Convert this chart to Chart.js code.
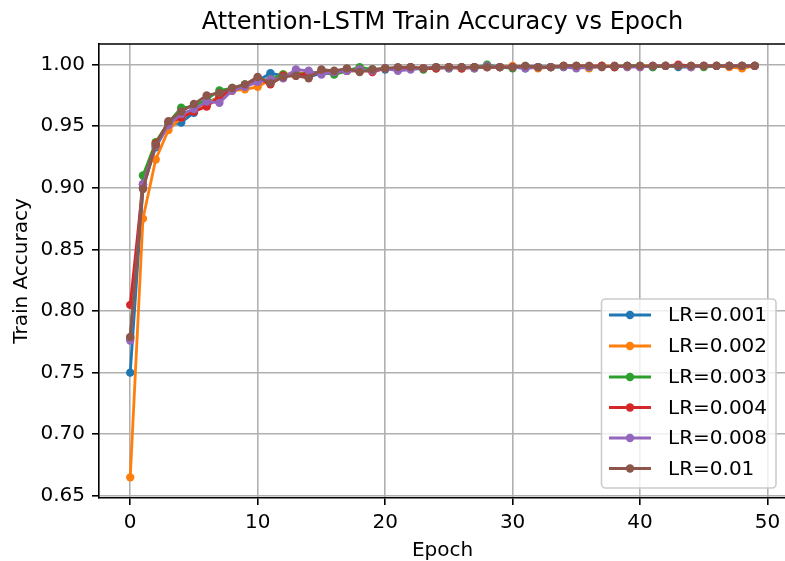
<!DOCTYPE html>
<html>
<head>
<meta charset="utf-8">
<script src="https://cdn.jsdelivr.net/npm/chart.js@4.4.1/dist/chart.umd.min.js"></script>
<style>
html,body{margin:0;padding:0;background:#fff;}
#wrap{width:785px;height:561px;overflow:hidden;position:relative;}
canvas{display:block;}
</style>
</head>
<body>
<div id="wrap"><canvas id="c" width="792" height="561"></canvas></div>
<script>
const chartTitle = "Attention-LSTM Train Accuracy vs Epoch";
const xTitle = "Epoch";
const yTitle = "Train Accuracy";
const epochs = Array.from({length: 50}, (_, i) => i);
const xTicks = [0, 10, 20, 30, 40, 50];
const yTicks = [0.65, 0.70, 0.75, 0.80, 0.85, 0.90, 0.95, 1.00];
const seriesLabels = ["LR=0.001", "LR=0.002", "LR=0.003", "LR=0.004", "LR=0.008", "LR=0.01"];
const seriesColors = ["#1f77b4", "#ff7f0e", "#2ca02c", "#d62728", "#9467bd", "#8c564b"];

const lr0001 = [0.750,0.900,0.933,0.951,0.953,0.961,0.969,0.974,0.980,0.983,0.987,0.993,0.991,0.993,0.990,0.993,0.993,0.995,0.995,0.996,0.996,0.997,0.997,0.997,0.997,0.998,0.997,0.998,0.998,0.998,0.998,0.997,0.998,0.998,0.999,0.999,0.998,0.999,0.998,0.999,0.999,0.998,0.999,0.998,0.998,0.999,0.999,0.999,0.999,0.999];
const lr0002 = [0.665,0.875,0.923,0.947,0.957,0.963,0.968,0.974,0.979,0.980,0.982,0.988,0.992,0.993,0.993,0.994,0.994,0.995,0.995,0.996,0.997,0.997,0.997,0.997,0.997,0.998,0.997,0.998,0.998,0.998,0.999,0.998,0.997,0.998,0.999,0.998,0.997,0.999,0.999,0.998,0.999,0.999,0.999,0.999,0.998,0.999,0.999,0.998,0.997,0.999];
const lr0003 = [0.778,0.910,0.937,0.953,0.965,0.966,0.972,0.979,0.981,0.984,0.987,0.988,0.992,0.992,0.993,0.994,0.992,0.995,0.998,0.996,0.997,0.997,0.998,0.996,0.998,0.997,0.998,0.997,1.000,0.998,0.997,0.999,0.998,0.998,0.998,0.999,0.998,0.999,0.998,0.999,0.999,0.998,0.999,0.999,0.999,0.998,0.999,0.999,0.999,0.999];
const lr0004 = [0.805,0.903,0.936,0.953,0.957,0.962,0.966,0.974,0.979,0.983,0.989,0.984,0.991,0.991,0.993,0.993,0.994,0.995,0.996,0.994,0.997,0.997,0.998,0.997,0.997,0.998,0.997,0.998,0.998,0.998,0.998,0.998,0.998,0.998,0.999,0.999,0.999,0.999,0.998,0.999,0.998,0.999,0.999,1.000,0.999,0.999,0.999,0.999,0.999,0.999];
const lr0008 = [0.776,0.903,0.934,0.951,0.960,0.964,0.970,0.969,0.979,0.982,0.986,0.988,0.989,0.996,0.995,0.992,0.994,0.995,0.996,0.995,0.997,0.995,0.996,0.997,0.998,0.997,0.998,0.997,0.999,0.998,0.998,0.997,0.998,0.998,0.998,0.997,0.998,0.998,0.999,0.998,0.998,0.999,0.999,0.999,0.998,0.999,0.999,0.999,0.999,0.999];
const lr001 = [0.779,0.899,0.935,0.954,0.962,0.968,0.975,0.977,0.981,0.984,0.990,0.985,0.990,0.991,0.989,0.996,0.995,0.997,0.994,0.996,0.997,0.998,0.998,0.997,0.998,0.998,0.998,0.998,0.998,0.998,0.998,0.999,0.998,0.998,0.999,0.999,0.999,0.998,0.999,0.999,0.999,0.999,0.999,0.999,0.999,0.999,0.999,0.999,0.999,0.999];

const seriesValues = [lr0001, lr0002, lr0003, lr0004, lr0008, lr001];
const FONT = "'DejaVu Sans', 'Liberation Sans', sans-serif";

const datasets = seriesValues.map((vals, i) => ({
  label: seriesLabels[i],
  data: epochs.map((e, k) => ({x: e, y: vals[k]})),
  borderColor: seriesColors[i],
  backgroundColor: seriesColors[i],
  pointBackgroundColor: seriesColors[i],
  pointBorderColor: seriesColors[i],
  borderWidth: 2.8,
  pointRadius: 4.2,
  pointBorderWidth: 0,
  pointHoverRadius: 4.2,
  tension: 0,
  order: -i
}));

const framePlugin = {
  id: 'frame',
  afterDraw(chart) {
    const {ctx, chartArea: a} = chart;
    ctx.save();
    ctx.strokeStyle = '#000';
    ctx.lineWidth = 1.6;
    ctx.beginPath();
    ctx.moveTo(a.left, a.top);
    ctx.lineTo(a.right, a.top);
    ctx.lineTo(a.right, a.bottom);
    ctx.stroke();
    ctx.fillStyle = '#000';
    ctx.font = "24px " + FONT;
    ctx.textAlign = 'center';
    ctx.textBaseline = 'middle';
    ctx.fillText(chartTitle, (a.left + a.right) / 2, 23);
    const bx = 601.5, by = 299, bw = 174.5, bh = 189, r = 4;
    ctx.beginPath();
    ctx.moveTo(bx + r, by);
    ctx.lineTo(bx + bw - r, by);
    ctx.arcTo(bx + bw, by, bx + bw, by + r, r);
    ctx.lineTo(bx + bw, by + bh - r);
    ctx.arcTo(bx + bw, by + bh, bx + bw - r, by + bh, r);
    ctx.lineTo(bx + r, by + bh);
    ctx.arcTo(bx, by + bh, bx, by + bh - r, r);
    ctx.lineTo(bx, by + r);
    ctx.arcTo(bx, by, bx + r, by, r);
    ctx.closePath();
    ctx.fillStyle = 'rgba(255,255,255,0.8)';
    ctx.fill();
    ctx.strokeStyle = '#cccccc';
    ctx.lineWidth = 1.6;
    ctx.stroke();
    const rowY = [315, 346, 377, 407.5, 438, 468.5];
    ctx.font = "20px " + FONT;
    ctx.textAlign = 'left';
    ctx.textBaseline = 'middle';
    chart.data.datasets.forEach((ds, i) => {
      const y = rowY[i];
      ctx.strokeStyle = ds.borderColor;
      ctx.lineWidth = 2.8;
      ctx.beginPath();
      ctx.moveTo(609, y);
      ctx.lineTo(651, y);
      ctx.stroke();
      ctx.fillStyle = ds.borderColor;
      ctx.beginPath();
      ctx.arc(630, y, 4.2, 0, Math.PI * 2);
      ctx.fill();
      ctx.fillStyle = '#000';
      ctx.fillText(ds.label, 668, y + 1);
    });
    ctx.restore();
  }
};

new Chart(document.getElementById('c'), {
  type: 'line',
  data: { datasets },
  options: {
    responsive: false,
    animation: false,
    events: [],
    layout: { padding: { top: 44, right: 6, left: 0, bottom: 0 } },
    plugins: { legend: { display: false }, tooltip: { enabled: false }, title: { display: false } },
    scales: {
      x: {
        type: 'linear',
        min: -2.45, max: 51.45,
        afterFit(s) { s.height = 63; },
        afterBuildTicks(s) { s.ticks = xTicks.map(v => ({value: v})); },
        ticks: { color: '#000', font: { family: FONT, size: 20 }, padding: 6, maxRotation: 0, autoSkip: false, callback: v => String(v) },
        grid: { color: '#b0b0b0', lineWidth: 1.6, tickLength: 7, tickColor: '#000', tickWidth: 1.6 },
        border: { display: true, color: '#000', width: 1.6 },
        title: { display: true, text: xTitle, color: '#000', font: { family: FONT, size: 20 }, padding: { top: 0, bottom: -2 } }
      },
      y: {
        type: 'linear',
        min: 0.64825, max: 1.01675,
        afterFit(s) { s.width = 99; },
        afterBuildTicks(s) { s.ticks = yTicks.map(v => ({value: v})); },
        ticks: { color: '#000', font: { family: FONT, size: 20 }, padding: 7, autoSkip: false, callback: v => Number(v).toFixed(2) },
        grid: { color: '#b0b0b0', lineWidth: 1.6, tickLength: 7, tickColor: '#000', tickWidth: 1.6 },
        border: { display: true, color: '#000', width: 1.6 },
        title: { display: true, text: yTitle, color: '#000', font: { family: FONT, size: 20 }, padding: { top: 10, bottom: 0 } }
      }
    }
  },
  plugins: [framePlugin]
});
</script>
</body>
</html>
